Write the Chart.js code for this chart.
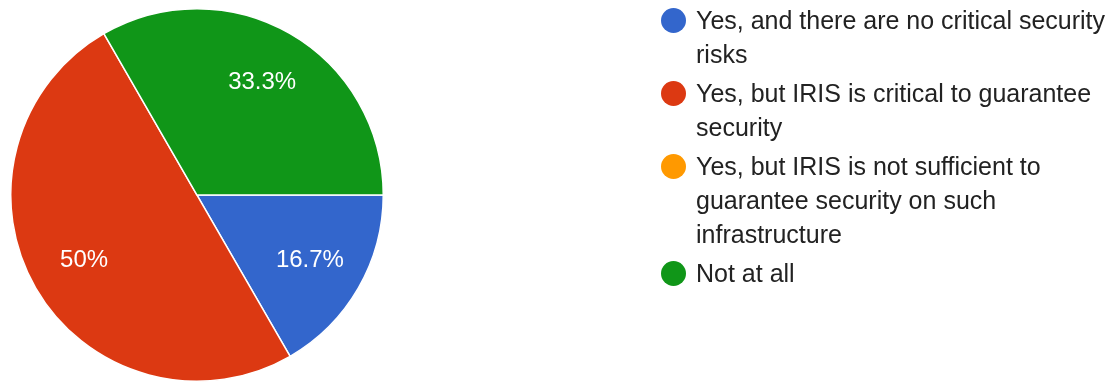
<!DOCTYPE html>
<html>
<head>
<meta charset="utf-8">
<script src="https://cdn.jsdelivr.net/npm/chart.js@4/dist/chart.umd.min.js"></script>
<style>
  html, body { margin: 0; padding: 0; background: #fff; }
  #wrap { position: relative; width: 1110px; height: 383px; overflow: hidden; }
  #c { position: absolute; left: 0; top: 0; }
  #legend { position: absolute; left: 660px; top: 3px; width: 445px;
    font-family: "Liberation Sans", Arial, sans-serif; font-size: 25px; line-height: 34px; color: #222; }
  .item { position: relative; padding-left: 36px; margin-bottom: 5px; }
  .dot { position: absolute; left: 0.5px; top: 4.5px; width: 25px; height: 25px; border-radius: 50%; }
</style>
</head>
<body>
<div id="wrap">
  <canvas id="c" width="1110" height="383"></canvas>
  <div id="legend"></div>
</div>
<script>
const categories = [
  "Yes, and there are no critical security risks",
  "Yes, but IRIS is critical to guarantee security",
  "Yes, but IRIS is not sufficient to guarantee security on such infrastructure",
  "Not at all"
];
const responses = [1, 3, 0, 2];
const colors = ["#3366cc", "#dc3912", "#ff9900", "#109618"];

// HTML legend built from the arrays
const legend = document.getElementById('legend');
categories.forEach((label, i) => {
  const item = document.createElement('div');
  item.className = 'item';
  const dot = document.createElement('span');
  dot.className = 'dot';
  dot.style.background = colors[i];
  item.appendChild(dot);
  item.appendChild(document.createTextNode(label));
  legend.appendChild(item);
});

const pctLabels = {
  id: 'pctLabels',
  afterDatasetsDraw(chart) {
    const ctx = chart.ctx;
    const meta = chart.getDatasetMeta(0);
    const data = chart.data.datasets[0].data;
    const total = data.reduce((a, b) => a + b, 0);
    ctx.save();
    ctx.fillStyle = '#ffffff';
    ctx.font = '24px "Liberation Sans", Arial, sans-serif';
    ctx.textAlign = 'center';
    ctx.textBaseline = 'middle';
    meta.data.forEach((arc, i) => {
      if (!data[i]) return;
      const p = arc.getProps(['x', 'y', 'startAngle', 'endAngle', 'outerRadius'], true);
      const mid = (p.startAngle + p.endAngle) / 2;
      const r = p.outerRadius * 0.7;
      const x = p.x + Math.cos(mid) * r;
      const y = p.y + Math.sin(mid) * r;
      let t = (data[i] / total * 100).toFixed(1);
      if (t.endsWith('.0')) t = t.slice(0, -2);
      ctx.fillText(t + '%', x, y);
    });
    ctx.restore();
  }
};

new Chart(document.getElementById('c'), {
  type: 'pie',
  data: {
    labels: categories,
    datasets: [{
      data: responses,
      backgroundColor: colors,
      borderColor: '#ffffff',
      borderWidth: 1.5
    }]
  },
  options: {
    responsive: false,
    animation: false,
    rotation: 90,
    layout: { padding: { left: 10, right: 726, top: 8, bottom: 1 } },
    plugins: {
      legend: { display: false },
      tooltip: { enabled: false }
    }
  },
  plugins: [pctLabels]
});
</script>
</body>
</html>
